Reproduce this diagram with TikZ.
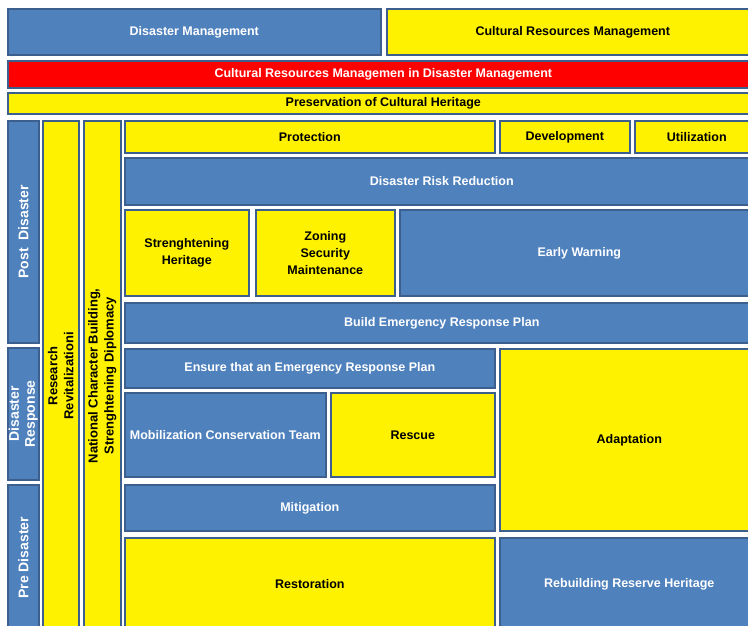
\documentclass[tikz,border=0pt]{standalone}
\usepackage{fontspec}
\setmainfont{Liberation Sans}
\definecolor{boxblue}{HTML}{4F81BD}
\definecolor{boxline}{HTML}{3C5F8D}
\tikzset{
  cell/.style n args={2}{draw=boxline, line width=1.6pt, anchor=north west,
    minimum width=#1, minimum height=#2, inner sep=1pt, align=center,
    font=\fontsize{12.5}{17}\selectfont\bfseries},
  bluecell/.style={fill=boxblue, text=white},
  yelcell/.style={fill=yellow, text=black},
  redcell/.style={fill=red, text=white},
  uplabel/.style={rotate=90, align=center, font=\fontsize{13}{16}\selectfont\bfseries}
}
\begin{document}
\begin{tikzpicture}[x=1pt, y=-1pt]
  \clip (0, 0) rectangle (748, 625);
  \fill[white] (0, 0) rectangle (748, 625);

  % top rows
  \node[cell={373pt}{46pt}, bluecell] (dm) at (7, 8) {Disaster Management};
  \node[cell={372pt}{46pt}, yelcell] (crm) at (386, 8) {Cultural Resources Management};
  \node[cell={751pt}{27pt}, redcell] (crmdm) at (7, 60) {Cultural Resources Managemen in Disaster Management};
  \node[cell={751pt}{21pt}, yelcell] (pch) at (7, 92) {Preservation of Cultural Heritage};

  % phases
  \node[cell={31pt}{222pt}, bluecell] (post) at (7, 120) {};
  \node[cell={31pt}{132pt}, bluecell] (resp) at (7, 347) {};
  \node[cell={31pt}{146pt}, bluecell] (pre) at (7, 484) {};
  \node[cell={36pt}{510pt}, yelcell] (rsch) at (42, 120) {};
  \node[cell={37pt}{510pt}, yelcell] (ncb) at (83, 120) {};

  \node[uplabel, text=white, font=\fontsize{14}{16}\selectfont\bfseries] (postlbl) at (post.center) {Post\ \ Disaster};
  \node[uplabel, text=white, font=\fontsize{14}{16}\selectfont\bfseries] (resplbl) at (resp.center) {Disaster\\Response};
  \node[uplabel, text=white, font=\fontsize{14}{16}\selectfont\bfseries] (prelbl) at (pre.center) {Pre Disaster};
  \node[uplabel] (rschlbl) at (rsch.center) {Research\\Revitalizationi};
  \node[uplabel] (ncblbl) at (ncb.center) {National Character Building,\\Strenghtening Diplomacy};

  % activities
  \node[cell={370pt}{32pt}, yelcell] (prot) at (124, 120) {Protection};
  \node[cell={130pt}{32pt}, yelcell] (dev) at (499, 120) {Development};
  \node[cell={124pt}{32pt}, yelcell] (util) at (634, 120) {Utilization};
  \node[cell={634pt}{47pt}, bluecell] (drr) at (124, 157) {Disaster Risk Reduction};
  \node[cell={124pt}{86pt}, yelcell] (sh) at (124, 209) {Strenghtening\\Heritage};
  \node[cell={139pt}{86pt}, yelcell] (zon) at (255, 209) {Zoning\\Security\\Maintenance};
  \node[cell={359pt}{86pt}, bluecell] (ew) at (399, 209) {Early Warning};
  \node[cell={634pt}{40pt}, bluecell] (berp) at (124, 302) {Build Emergency Response Plan};
  \node[cell={370pt}{39pt}, bluecell] (ens) at (124, 348) {Ensure that an Emergency Response Plan};
  \node[cell={259pt}{182pt}, yelcell] (adap) at (499, 348) {Adaptation};
  \node[cell={201pt}{84pt}, bluecell] (mob) at (124, 392) {Mobilization Conservation Team};
  \node[cell={164pt}{84pt}, yelcell] (resc) at (330, 392) {Rescue};
  \node[cell={370pt}{46pt}, bluecell] (mit) at (124, 484) {Mitigation};
  \node[cell={370pt}{93pt}, yelcell] (rest) at (124, 537) {Restoration};
  \node[cell={259pt}{93pt}, bluecell] (reb) at (499, 537) {Rebuilding Reserve Heritage};
\end{tikzpicture}
\end{document}
